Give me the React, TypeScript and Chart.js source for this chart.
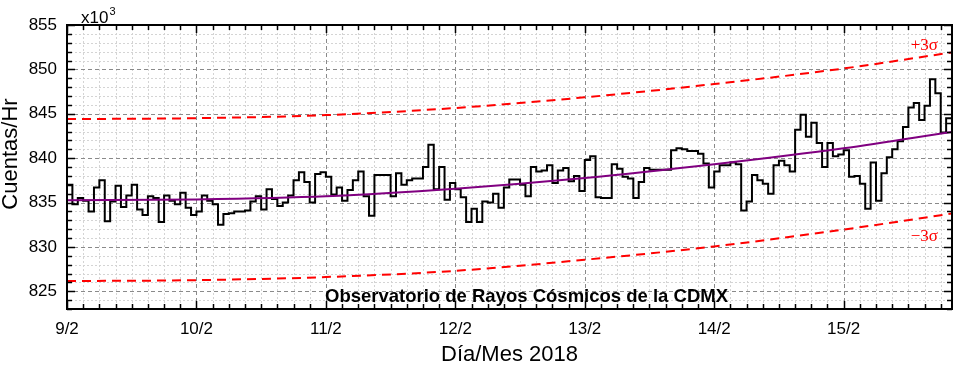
import React, { useEffect, useRef } from 'react';
import { Chart, registerables } from 'chart.js';

Chart.register(...registerables);

// ---- Data (counts per hour, in thousands) ----
const START_DAY = 9; // 9 Feb 2018, 00:00
const END_DAY = 15.837;
const Y_MIN = 823;
const Y_MAX = 855;

const counts = [
  837.0, 834.8, 835.5, 835.2, 834.0, 836.7, 837.5, 832.9, 835.1, 836.9, 834.5, 835.8,
  837.0, 834.2, 833.6, 835.7, 835.5, 832.8, 835.8, 835.2, 834.8, 836.1, 834.4, 833.6,
  834.0, 835.8, 835.2, 834.8, 832.5, 833.7, 833.8, 834.0, 834.0, 834.1, 835.1, 835.7,
  834.2, 836.5, 835.4, 834.6, 835.0, 835.8, 837.5, 838.4, 837.3, 835.0, 838.2, 838.4,
  837.9, 835.9, 836.7, 835.2, 836.4, 837.5, 838.5, 835.7, 833.5, 838.1, 838.1, 838.1,
  835.7, 838.3, 837.0, 837.5, 837.7, 837.7, 839.0, 841.5, 836.5, 839.0, 835.3, 837.2,
  836.5, 835.6, 832.8, 834.3, 832.8, 835.1, 835.0, 836.0, 834.4, 836.7, 837.6, 837.6,
  837.0, 835.7, 839.0, 838.5, 838.6, 839.2, 837.2, 838.6, 838.9, 837.4, 838.0, 836.3,
  839.8, 840.2, 835.6, 835.5, 835.5, 839.3, 838.8, 837.9, 837.7, 835.5, 837.3, 838.9,
  838.7, 838.7, 838.7, 838.7, 840.9, 841.1, 841.0, 840.8, 840.8, 840.5, 839.4, 836.7,
  838.5, 839.2, 839.2, 839.5, 839.3, 834.1, 835.1, 838.1, 837.5, 837.1, 836.0, 839.2,
  839.7, 839.2, 838.5, 843.2, 844.9, 842.4, 844.0, 841.7, 839.0, 841.7, 840.2, 840.4,
  840.9, 837.9, 838.0, 837.1, 834.3, 839.5, 835.2, 838.3, 840.1, 841.0, 841.9, 843.5,
  845.7, 846.2, 844.3, 845.9, 848.9, 847.3, 842.9, 844.5,
];

// Trend curve and ±3σ bands, read at these hours
const curveHours = [0, 24, 48, 72, 96, 120, 144, 164];
const trend = [835.25, 835.35, 835.7, 836.55, 837.75, 839.3, 841.1, 842.95];
const upper = [844.4, 844.5, 844.85, 845.65, 846.85, 848.35, 850.1, 851.9];
const lower = [826.15, 826.25, 826.6, 827.3, 828.55, 830.05, 831.95, 833.75];

const xTickDays = [9, 10, 11, 12, 13, 14, 15];
const xTickLabels = ['9/2', '10/2', '11/2', '12/2', '13/2', '14/2', '15/2'];
const yTicks = [825, 830, 835, 840, 845, 850, 855];

const SANS = '"Liberation Sans", Arial, sans-serif';
const SERIF = '"Liberation Serif", "Times New Roman", serif';

const framePlugin = {
  id: 'originFrame',
  beforeDatasetsDraw(chart: any) {
    const { ctx, chartArea: a, scales } = chart;
    const x = scales.x;
    const y = scales.y;
    ctx.save();
    ctx.beginPath();
    ctx.rect(a.left, a.top, a.right - a.left, a.bottom - a.top);
    ctx.clip();
    ctx.lineWidth = 1;
    // minor grid (every 3 h, every 1 unit)
    ctx.strokeStyle = '#d4d4d4';
    ctx.setLineDash([2, 2]);
    ctx.beginPath();
    for (let h = 3; START_DAY + h / 24 < x.max; h += 3) {
      if (h % 24 === 0) continue;
      const px = Math.round(x.getPixelForValue(START_DAY + h / 24)) + 0.5;
      ctx.moveTo(px, a.top);
      ctx.lineTo(px, a.bottom);
    }
    for (let v = Math.ceil(y.min); v <= y.max; v++) {
      if (v % 5 === 0) continue;
      const py = Math.round(y.getPixelForValue(v)) + 0.5;
      ctx.moveTo(a.left, py);
      ctx.lineTo(a.right, py);
    }
    ctx.stroke();
    // major grid
    ctx.strokeStyle = '#8a8a8a';
    ctx.setLineDash([4, 3]);
    ctx.beginPath();
    xTickDays.forEach((d) => {
      const px = Math.round(x.getPixelForValue(d)) + 0.5;
      ctx.moveTo(px, a.top);
      ctx.lineTo(px, a.bottom);
    });
    yTicks.forEach((v) => {
      const py = Math.round(y.getPixelForValue(v)) + 0.5;
      ctx.moveTo(a.left, py);
      ctx.lineTo(a.right, py);
    });
    ctx.stroke();
    ctx.restore();
  },
  afterDatasetsDraw(chart: any) {
    const { ctx, chartArea: a, scales } = chart;
    const x = scales.x;
    const y = scales.y;
    ctx.save();
    ctx.setLineDash([]);
    ctx.strokeStyle = '#000';
    ctx.lineWidth = 1.5;
    ctx.beginPath();
    // x ticks (bottom and top, inward)
    for (let h = 0; START_DAY + h / 24 <= x.max; h += 3) {
      const px = Math.round(x.getPixelForValue(START_DAY + h / 24)) + 0.5;
      const len = h % 24 === 0 ? 8 : 5;
      ctx.moveTo(px, a.bottom);
      ctx.lineTo(px, a.bottom - len);
      ctx.moveTo(px, a.top);
      ctx.lineTo(px, a.top + len);
    }
    // y ticks (left and right, inward)
    for (let v = Math.ceil(y.min); v <= y.max; v++) {
      const py = Math.round(y.getPixelForValue(v)) + 0.5;
      const len = v % 5 === 0 ? 8 : 5;
      ctx.moveTo(a.left, py);
      ctx.lineTo(a.left + len, py);
      ctx.moveTo(a.right, py);
      ctx.lineTo(a.right - len, py);
    }
    ctx.stroke();
    ctx.lineWidth = 2;
    ctx.strokeRect(a.left, a.top, a.right - a.left, a.bottom - a.top);
    ctx.restore();
  },
  afterDraw(chart: any) {
    const { ctx } = chart;
    ctx.save();
    ctx.fillStyle = '#000';
    // y title
    ctx.save();
    ctx.translate(10.5, 154);
    ctx.rotate(-Math.PI / 2);
    ctx.font = `22px ${SANS}`;
    ctx.textAlign = 'center';
    ctx.textBaseline = 'middle';
    ctx.fillText('Cuentas/Hr', 0, 0);
    ctx.restore();
    // multiplier
    ctx.textAlign = 'left';
    ctx.textBaseline = 'alphabetic';
    ctx.font = `17px ${SANS}`;
    ctx.fillText('x10', 81, 23);
    ctx.font = `11px ${SANS}`;
    ctx.fillText('3', 109.5, 15);
    // station name
    ctx.font = `bold 18.5px ${SANS}`;
    ctx.textAlign = 'center';
    ctx.fillText('Observatorio de Rayos Cósmicos de la CDMX', 526.5, 302);
    // sigma labels
    ctx.fillStyle = '#ff0000';
    ctx.font = `17px ${SERIF}`;
    ctx.textAlign = 'right';
    ctx.fillText('+3σ', 938, 50);
    ctx.fillText('\u22123σ', 938, 241);
    ctx.restore();
  },
};

export default function App() {
  const canvasRef = useRef<HTMLCanvasElement | null>(null);

  useEffect(() => {
    if (!canvasRef.current) return;
    const toDay = (h: number) => START_DAY + h / 24;
    const countPts = counts.map((v, i) => ({ x: toDay(i), y: v }));
    countPts.push({ x: toDay(counts.length), y: counts[counts.length - 1] });
    const curve = (vals: number[]) => vals.map((v, i) => ({ x: toDay(curveHours[i]), y: v }));

    const chart = new Chart(canvasRef.current, {
      type: 'line',
      data: {
        datasets: [
          {
            label: 'Ajuste',
            data: curve(trend),
            borderColor: '#800080',
            borderWidth: 2,
            pointRadius: 0,
            cubicInterpolationMode: 'monotone',
          },
          {
            label: 'Cuentas',
            data: countPts,
            borderColor: '#000000',
            borderWidth: 2,
            pointRadius: 0,
            stepped: 'before',
          },
          {
            label: '+3σ',
            data: curve(upper),
            borderColor: '#ff0000',
            borderWidth: 2,
            borderDash: [9, 6],
            pointRadius: 0,
            cubicInterpolationMode: 'monotone',
          },
          {
            label: '-3σ',
            data: curve(lower),
            borderColor: '#ff0000',
            borderWidth: 2,
            borderDash: [9, 6],
            pointRadius: 0,
            cubicInterpolationMode: 'monotone',
          },
        ],
      } as any,
      options: {
        animation: false,
        responsive: false,
        devicePixelRatio: 1,
        layout: { padding: { top: 25, right: 9, left: 0, bottom: 0 } },
        plugins: { legend: { display: false }, tooltip: { enabled: false } },
        scales: {
          x: {
            type: 'linear',
            min: START_DAY,
            max: END_DAY,
            afterBuildTicks: (s: any) => {
              s.ticks = xTickDays.map((v) => ({ value: v }));
            },
            afterFit: (s: any) => {
              s.height = 63;
            },
            grid: { display: false, drawTicks: false },
            border: { display: false },
            ticks: {
              autoSkip: false,
              maxRotation: 0,
              padding: 10,
              color: '#000',
              font: { family: SANS, size: 17 },
              callback: (v: any) => {
                const i = xTickDays.indexOf(Number(v));
                return i >= 0 ? xTickLabels[i] : '';
              },
            },
            title: {
              display: true,
              text: 'Día/Mes 2018',
              color: '#000',
              font: { family: SANS, size: 22 },
              padding: { top: 0, bottom: 4 },
            },
          },
          y: {
            type: 'linear',
            min: Y_MIN,
            max: Y_MAX,
            afterBuildTicks: (s: any) => {
              s.ticks = yTicks.map((v) => ({ value: v }));
            },
            afterFit: (s: any) => {
              s.width = 67;
            },
            grid: { display: false, drawTicks: false },
            border: { display: false },
            ticks: {
              autoSkip: false,
              padding: 10,
              color: '#000',
              font: { family: SANS, size: 17 },
            },
          },
        },
      } as any,
      plugins: [framePlugin],
    });
    return () => chart.destroy();
  }, []);

  return (
    <div style={{ position: 'absolute', left: 0, top: 0, width: 961, height: 372, background: '#fff' }}>
      <canvas ref={canvasRef} width={961} height={372} style={{ display: 'block' }} />
    </div>
  );
}
